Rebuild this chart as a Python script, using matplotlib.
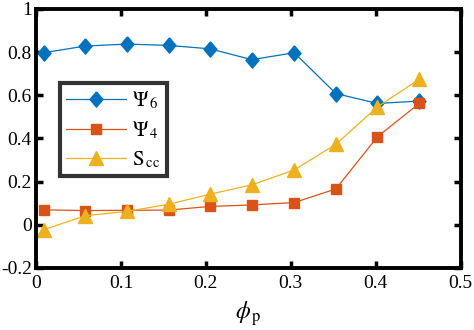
import matplotlib
matplotlib.use("Agg")
import matplotlib.pyplot as plt

phi_p = [0.009, 0.058, 0.107, 0.156, 0.205, 0.254, 0.304, 0.353, 0.402, 0.451]
psi6 = [0.797, 0.828, 0.837, 0.831, 0.815, 0.765, 0.797, 0.608, 0.562, 0.573]
psi4 = [0.069, 0.066, 0.067, 0.068, 0.085, 0.092, 0.103, 0.166, 0.408, 0.562]
scc = [-0.023, 0.042, 0.062, 0.095, 0.142, 0.185, 0.254, 0.373, 0.546, 0.674]

xticks = [0, 0.1, 0.2, 0.3, 0.4, 0.5]
xticklabels = ["0", "0.1", "0.2", "0.3", "0.4", "0.5"]
yticks = [-0.2, 0, 0.2, 0.4, 0.6, 0.8, 1]
yticklabels = ["-0.2", "0", "0.2", "0.4", "0.6", "0.8", "1"]

plt.rcParams['font.family'] = 'serif'
plt.rcParams['font.serif'] = ['Liberation Serif', 'DejaVu Serif']
plt.rcParams['mathtext.fontset'] = 'stix'

fig = plt.figure(figsize=(4.74, 3.30), dpi=100)
ax = fig.add_axes([0.076, 0.188, 0.896, 0.785])

diamond = [(0, 1), (0.85, 0), (0, -1), (-0.85, 0), (0, 1)]
ax.plot(phi_p, psi6, color='#0072BD', marker=diamond, markersize=11, lw=0.9, label=r'$\Psi_{\,6}$')
ax.plot(phi_p, psi4, color='#D95319', marker='s', markersize=7.8, lw=0.9, label=r'$\Psi_{\,4}$')
ax.plot(phi_p, scc, color='#EDB120', marker='^', markersize=9.5, lw=0.9, label=r'$\mathrm{S}_{\,\mathrm{cc}}$')

ax.set_xlim(0, 0.5)
ax.set_ylim(-0.2, 1)
ax.set_xticks(xticks)
ax.set_xticklabels(xticklabels)
ax.set_yticks(yticks)
ax.set_yticklabels(yticklabels)
ax.tick_params(direction='in', top=True, right=True, width=2.5, length=5, labelsize=14)
ax.tick_params(axis='x', pad=5)
ax.tick_params(axis='y', pad=3)
for s in ax.spines.values():
    s.set_linewidth(2.8)

ax.set_xlabel(r'$\phi_{\,\mathrm{p}}$', fontsize=17, labelpad=5)

leg = ax.legend(loc='upper left', bbox_to_anchor=(0.057, 0.714), fontsize=15, frameon=True,
                fancybox=False, handlelength=2.85, borderpad=0.3, labelspacing=0.4,
                handletextpad=0.3, borderaxespad=0)
leg.get_frame().set_edgecolor('black')
leg.get_frame().set_linewidth(3)

fig.savefig('out.png', dpi=100)
